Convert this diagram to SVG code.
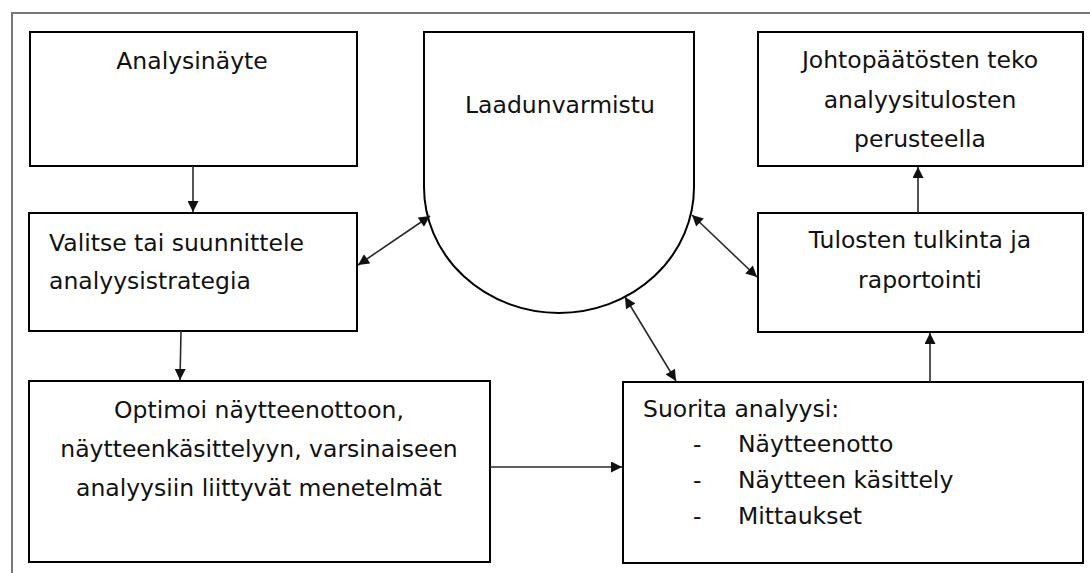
<svg xmlns="http://www.w3.org/2000/svg" width="1090" height="573" viewBox="0 0 1090 573">
  <style>
    .box { fill: #ffffff; stroke: #000000; stroke-width: 2; }
    .frame { fill: none; stroke: #777777; stroke-width: 2; }
    .conn { fill: none; stroke: #2a2a2a; stroke-width: 1.6; }
    text { font-family: "DejaVu Sans", sans-serif; font-size: 23.5px; fill: #111111; }
    .c { text-anchor: middle; }
  </style>
  <defs>
    <marker id="ah" viewBox="0 0 10 10" refX="10" refY="5" markerWidth="12" markerHeight="11" markerUnits="userSpaceOnUse" orient="auto-start-reverse">
      <path d="M0,0 L10,5 L0,10 Z" fill="#111111"/>
    </marker>
  </defs>
  <rect width="1090" height="573" fill="#ffffff"/>
  <path class="frame" d="M12,573 V13 H1090"/>

  <g id="n-analysinayte">
    <rect class="box" x="30" y="32" width="327" height="134"/>
    <text class="c" x="192" y="69">Analysinäyte</text>
  </g>
  <g id="n-valitse">
    <rect class="box" x="29" y="213" width="328" height="118"/>
    <text x="49" y="251">Valitse tai suunnittele</text>
    <text x="49" y="289">analyysistrategia</text>
  </g>
  <g id="n-optimoi">
    <rect class="box" x="29" y="381" width="461" height="181"/>
    <text class="c" x="259" y="418">Optimoi näytteenottoon,</text>
    <text class="c" x="259" y="457">näytteenkäsittelyyn, varsinaiseen</text>
    <text class="c" x="259" y="496">analyysiin liittyvät menetelmät</text>
  </g>
  <g id="n-laadunvarmistu">
    <path class="box" d="M424,32 H694 V187 A135,126 0 0 1 424,187 Z"/>
    <text class="c" x="560" y="113">Laadunvarmistu</text>
  </g>
  <g id="n-johtopaatos">
    <rect class="box" x="758" y="32" width="325" height="134"/>
    <text class="c" x="920" y="68">Johtopäätösten teko</text>
    <text class="c" x="920" y="108">analyysitulosten</text>
    <text class="c" x="920" y="147">perusteella</text>
  </g>
  <g id="n-tulosten">
    <rect class="box" x="758" y="213" width="325" height="119"/>
    <text class="c" x="920" y="248">Tulosten tulkinta ja</text>
    <text class="c" x="920" y="288">raportointi</text>
  </g>
  <g id="n-suorita">
    <rect class="box" x="623" y="382" width="460" height="181"/>
    <text x="643" y="417">Suorita analyysi:</text>
    <text x="693" y="452">-</text>
    <text x="738" y="452">Näytteenotto</text>
    <text x="693" y="488">-</text>
    <text x="738" y="488">Näytteen käsittely</text>
    <text x="693" y="524">-</text>
    <text x="738" y="524">Mittaukset</text>
  </g>

  <g id="connectors">
    <line class="conn" x1="193" y1="166" x2="193" y2="212" marker-end="url(#ah)"/>
    <line class="conn" x1="181" y1="331" x2="180" y2="380" marker-end="url(#ah)"/>
    <line class="conn" x1="490" y1="467" x2="622" y2="467" marker-end="url(#ah)"/>
    <line class="conn" x1="930" y1="382" x2="930" y2="333" marker-end="url(#ah)"/>
    <line class="conn" x1="918" y1="213" x2="918" y2="167" marker-end="url(#ah)"/>
    <line class="conn" x1="358" y1="265" x2="430" y2="216" marker-start="url(#ah)" marker-end="url(#ah)"/>
    <line class="conn" x1="692" y1="215" x2="757" y2="277" marker-start="url(#ah)" marker-end="url(#ah)"/>
    <line class="conn" x1="625" y1="297" x2="676" y2="381" marker-start="url(#ah)" marker-end="url(#ah)"/>
  </g>
</svg>
